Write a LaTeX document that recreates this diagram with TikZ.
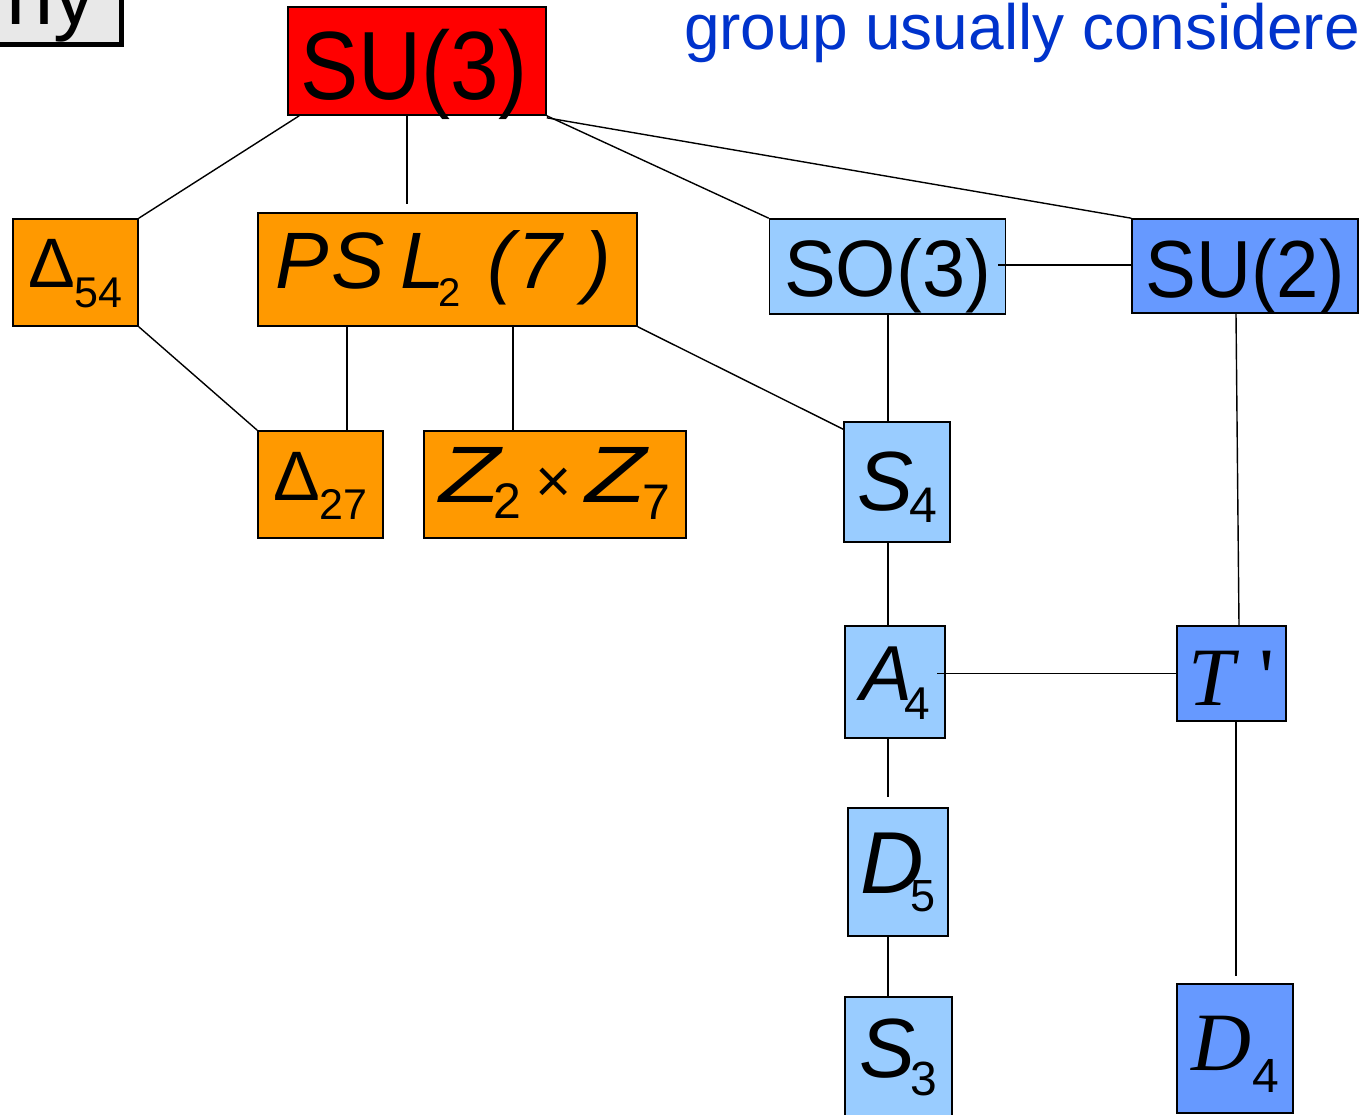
\documentclass[tikz,border=0pt]{standalone}
\usepackage{fontspec}
\usepackage{graphicx}
\setmainfont{Liberation Sans}
\newfontfamily\serifit{Liberation Serif Italic}
\newfontfamily\serifup{Liberation Serif}
\usetikzlibrary{calc}
\definecolor{suthree}{HTML}{FF0000}
\definecolor{orng}{HTML}{FF9900}
\definecolor{lblue}{HTML}{99CCFF}
\definecolor{dblue}{HTML}{6699FF}
\definecolor{titlegray}{HTML}{E8E8E8}
\definecolor{titleblue}{HTML}{0033CC}
\newcommand\lowsub[3]{\raisebox{-#2pt}{\fontsize{#1}{#1}\selectfont\upshape #3}}
\newcommand\fs[1]{\fontsize{#1}{#1}\selectfont}
\newcommand\wideZ{\scalebox{1.25}[1]{Z}}
\tikzset{
  box/.style={draw, line width=1.6pt, inner sep=0pt, text depth=0pt, anchor=center},
  conn/.style={draw, line width=1.4pt},
  plain/.style={inner sep=0pt, outer sep=0pt}
}
\begin{document}
\begin{tikzpicture}[x=1pt,y=-1pt]
\useasboundingbox (0,0) rectangle (1361,1115);
\clip (0,0) rectangle (1361,1115);
% title fragments
\node[draw, line width=5pt, fill=titlegray, minimum width=300, minimum height=100, anchor=south east, inner sep=0pt] (title) at (123.5,47.5) {};
\node[plain, anchor=base west] (titletext) at (6,25) {\fs{85}hy};
\node[plain, anchor=base west, text=titleblue] (subtitle) at (684,50) {\fs{64}group usually considere};
% nodes
\node[box, fill=suthree, minimum width=258, minimum height=108, text height=78pt] (su3) at (417,61) {\hspace{-6pt}\scalebox{0.9}[1]{\fs{97}SU(3)}};
\node[box, fill=orng, minimum width=125, minimum height=107, text height=31pt] (d54) at (75.5,272.5) {\fs{70}Δ\lowsub{43}{20}{54}};
\node[box, fill=orng, minimum width=379, minimum height=113, text height=39pt] (psl) at (447.5,269.5) {\fs{80}\itshape\hspace{-8pt}P\hspace{2pt}S\hspace{16pt}L\hspace{-7pt}\lowsub{40}{18}{2}\hspace{27pt}(\hspace{4pt}7\hspace{22pt})};
\node[box, fill=lblue, minimum width=236, minimum height=95, text height=61pt] (so3) at (887.5,266.5) {\scalebox{0.97}[1]{\fs{80}SO(3)}};
\node[box, fill=dblue, minimum width=226, minimum height=94, text height=64pt] (su2) at (1245,266) {\scalebox{0.94}[1]{\fs{81}SU(2)}};
\node[box, fill=orng, minimum width=125, minimum height=107, text height=31pt] (d27) at (320.5,484.5) {\fs{70}Δ\lowsub{43}{20}{27}};
\node[box, fill=orng, minimum width=262, minimum height=107, text height=35pt] (z2z7) at (555,484.5) {\fs{80}\itshape\wideZ\hspace{-7pt}\lowsub{50}{16}{2}\hspace{14pt}{\fs{62}\upshape ×}\hspace{14pt}\wideZ\hspace{-4pt}\lowsub{50}{17}{7}};
\node[box, fill=lblue, minimum width=106, minimum height=120, text height=56pt] (s4) at (897,482) {\fs{84}\itshape S\hspace{-4pt}\lowsub{50}{12}{4}};
\node[box, fill=lblue, minimum width=100, minimum height=112, text height=36pt] (a4) at (895,682) {\fs{78}\itshape A\hspace{-8pt}\lowsub{46}{19}{4}};
\node[box, fill=dblue, minimum width=109, minimum height=95, text height=64pt] (tp) at (1231.5,673.5) {\serifit\fs{83}T\hspace{24pt}\serifup\symbol{39}};
\node[box, fill=lblue, minimum width=100, minimum height=128, text height=43pt] (d5) at (898,872) {\fs{88}\itshape D\hspace{-13pt}\lowsub{45}{18}{5}};
\node[box, fill=lblue, minimum width=107, minimum height=140, text height=20pt] (s3) at (898.5,1067) {\fs{84}\itshape S\hspace{-5pt}\lowsub{48}{18}{3}};
\node[box, fill=dblue, minimum width=116, minimum height=129, text height=43pt] (d4) at (1235,1048.5) {\serifit\fs{83}D\hspace{1pt}\lowsub{48}{22}{\rmfamily 4}};
% connectors
\draw[conn] ([xshift=12pt]su3.south west) -- (d54.north east);
\coordinate (pslgap) at ([xshift=-40.5pt,yshift=8pt]psl.north);
\draw[conn] ([xshift=-10pt]su3.south) -- (pslgap);
\draw[conn] (su3.south east) -- (so3.north west);
\draw[conn] ([yshift=-2pt]su3.south east) -- (su2.north west);
\draw[conn] (d54.south east) -- (d27.north west);
\coordinate (c1) at ([xshift=26.5pt]d27.north);
\draw[conn] (c1) -- (c1 |- psl.south);
\coordinate (c2) at ([xshift=-42pt]z2z7.north);
\draw[conn] (c2) -- (c2 |- psl.south);
\draw[conn] (psl.south east) -- ([yshift=-8pt]s4.north west);
\coordinate (c3) at ([xshift=-8pt,yshift=1.5pt]so3.east);
\draw[conn] (c3) -- (c3 -| su2.west);
\coordinate (c4) at ([xshift=-9pt]s4.north);
\draw[conn] (c4) -- (c4 |- so3.south);
\draw[conn] ([xshift=-9pt]su2.south) -- ([xshift=7.5pt]tp.north);
\coordinate (c5) at ([xshift=-9pt]s4.south);
\draw[conn] (c5) -- (c5 |- a4.north);
\coordinate (c6) at ([xshift=-9pt]a4.east);
\draw[conn] (tp.west) -- (tp.west -| c6);
\coordinate (c7) at ([xshift=-7pt]a4.south);
\draw[conn] (c7) -- ($(c7 |- d5.north)+(0,-10)$);
\coordinate (c10) at ([xshift=-10pt]d5.south);
\draw[conn] (c10) -- (c10 |- s3.north);
\coordinate (c11) at ([xshift=4.5pt]tp.south);
\draw[conn] (c11) -- ($(c11 |- d4.north)+(0,-7)$);
\end{tikzpicture}
\end{document}
